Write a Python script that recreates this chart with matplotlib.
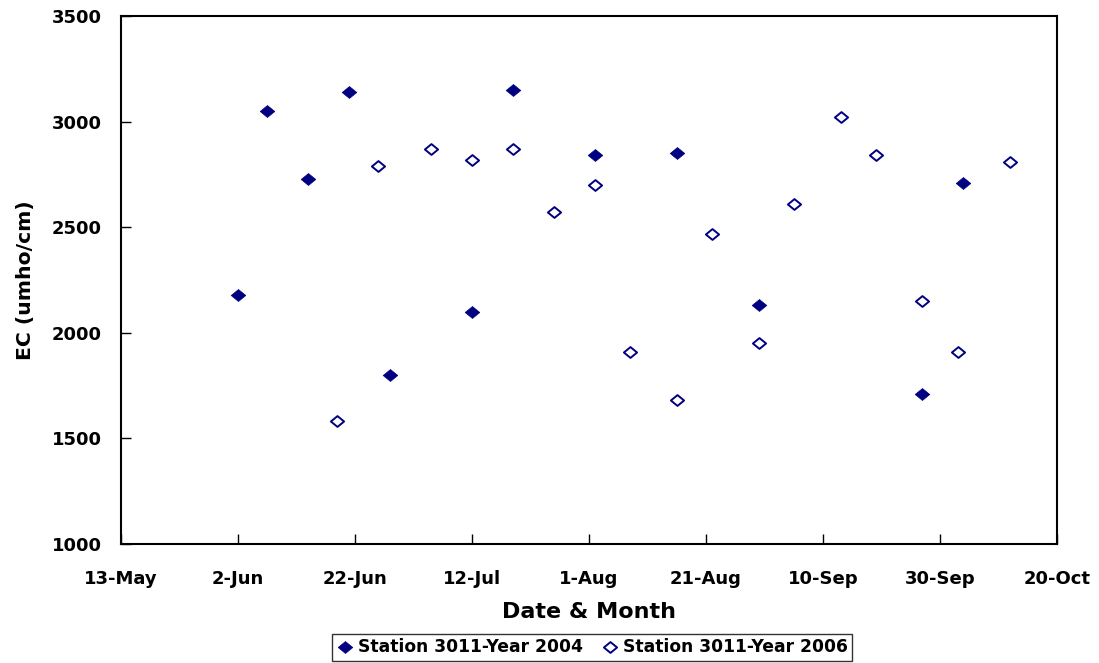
import numpy as np
import pandas as pd
import matplotlib
matplotlib.use("Agg")
import matplotlib.pyplot as plt
from matplotlib.path import Path

# wide bold sans, closest to the letter-spaced Excel text
plt.rcParams['font.family'] = ['DejaVu Sans']
plt.rcParams['font.weight'] = 'bold'

# Station 3011, Year 2004 (filled diamonds)
dates_2004 = ["2-Jun", "7-Jun", "14-Jun", "21-Jun", "28-Jun", "12-Jul", "19-Jul",
              "2-Aug", "16-Aug", "30-Aug", "27-Sep", "4-Oct"]
ec_2004 = [2180, 3050, 2730, 3140, 1800, 2100, 3150, 2840, 2850, 2130, 1710, 2710]

# Station 3011, Year 2006 (open diamonds)
dates_2006 = ["19-Jun", "26-Jun", "5-Jul", "12-Jul", "19-Jul", "26-Jul", "2-Aug",
              "8-Aug", "16-Aug", "22-Aug", "30-Aug", "5-Sep", "13-Sep", "19-Sep",
              "27-Sep", "3-Oct", "12-Oct"]
ec_2006 = [1580, 2790, 2870, 2820, 2870, 2570, 2700, 1910, 1680, 2470, 1950,
           2610, 3020, 2840, 2150, 1910, 2810]

x_ticklabels = ["13-May", "2-Jun", "22-Jun", "12-Jul", "1-Aug", "21-Aug",
                "10-Sep", "30-Sep", "20-Oct"]
y_ticks = [1000, 1500, 2000, 2500, 3000, 3500]


def to_dates(labels):
    # plot both years on one seasonal axis
    return pd.to_datetime([f"{s}-2004" for s in labels], format="%d-%b-%Y")


x04 = to_dates(dates_2004)
x06 = to_dates(dates_2006)
xt = to_dates(x_ticklabels)

# slightly flattened diamond like the Excel marker
diamond = Path([(-1, 0), (0, 0.82), (1, 0), (0, -0.82), (-1, 0)],
               [Path.MOVETO, Path.LINETO, Path.LINETO, Path.LINETO, Path.CLOSEPOLY])

navy = "#000080"

fig = plt.figure(figsize=(10.99, 6.63), dpi=100)
ax = fig.add_axes([0.110, 0.1795, 0.8518, 0.7964])

ax.plot(x04, ec_2004, linestyle="none", marker=diamond, markersize=10.5,
        color=navy, markeredgewidth=0.5, label="Station 3011-Year 2004")
ax.plot(x06, ec_2006, linestyle="none", marker=diamond, markersize=9.5,
        markerfacecolor="white", markeredgecolor=navy, markeredgewidth=1.4,
        label="Station 3011-Year 2006")

ax.set_xlim(xt[0], xt[-1])
ax.set_ylim(1000, 3500)
ax.set_xticks(xt)
ax.set_xticklabels(x_ticklabels)
ax.set_yticks(y_ticks)

ax.tick_params(direction="in", length=7, width=1, labelsize=13)
ax.tick_params(axis="x", pad=19)
ax.tick_params(axis="y", pad=14)
for lab in ax.get_xticklabels() + ax.get_yticklabels():
    lab.set_fontweight("bold")
for s in ax.spines.values():
    s.set_linewidth(1.5)

ax.set_xlabel("Date & Month", fontsize=16, fontweight="bold", labelpad=10)
ax.set_ylabel("EC (umho/cm)", fontsize=14.7, fontweight="bold", labelpad=12)

leg = fig.legend(loc="center", bbox_to_anchor=(0.539, 0.0234), ncol=2,
                 frameon=True, fancybox=False, edgecolor="black",
                 prop={"size": 12.3, "weight": "bold"}, handletextpad=0.25,
                 columnspacing=1.1, handlelength=1.0, borderpad=0.25,
                 borderaxespad=0)
leg.get_frame().set_linewidth(1.0)

fig.savefig("out.png", dpi=100)
